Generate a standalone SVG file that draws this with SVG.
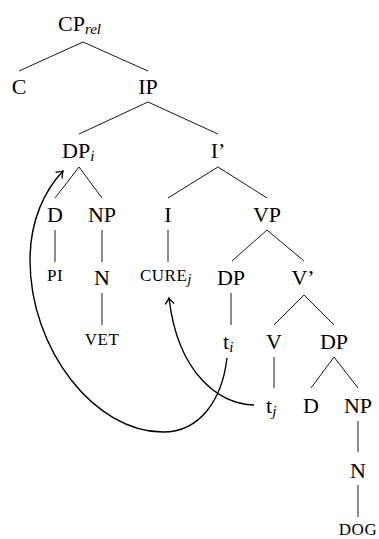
<svg xmlns="http://www.w3.org/2000/svg" width="379" height="539" viewBox="0 0 379 539" font-family="'Liberation Serif', 'DejaVu Serif', 'Times New Roman', serif">
<style>
text{font-family:'Liberation Serif','DejaVu Serif','Times New Roman',serif;fill:#000}
.n{font-size:22px;text-anchor:middle}
.s{font-size:17px;text-anchor:middle;letter-spacing:0.5px}
.sub{font-size:15px;font-style:italic}
.e line{stroke:#000;stroke-width:0.9}
.mv{fill:none;stroke:#000;stroke-width:1.4}
</style>
<defs>
<marker id="ah" markerUnits="userSpaceOnUse" markerWidth="14" markerHeight="14" viewBox="-8 -7 10 14" refX="0" refY="0" orient="auto">
<path d="M -6,-4.5 Q -2,-1 0,0 Q -2,1 -6,4.5" fill="none" stroke="#000" stroke-width="1.3"/>
</marker>
</defs>
<g id="connectors" class="e">
<line x1="83" y1="42" x2="19" y2="71"/>
<line x1="83" y1="42" x2="148" y2="71"/>
<line x1="148" y1="102" x2="79" y2="134"/>
<line x1="148" y1="102" x2="218" y2="134"/>
<line x1="79" y1="167" x2="55" y2="198"/>
<line x1="79" y1="167" x2="102" y2="198"/>
<line x1="218" y1="167" x2="168" y2="198"/>
<line x1="218" y1="167" x2="267" y2="198"/>
<line x1="55" y1="230" x2="55" y2="262"/>
<line x1="102" y1="230" x2="102" y2="262"/>
<line x1="102" y1="293" x2="102" y2="325"/>
<line x1="168" y1="230" x2="168" y2="262"/>
<line x1="267" y1="230" x2="232" y2="261"/>
<line x1="267" y1="230" x2="304" y2="261"/>
<line x1="231" y1="293" x2="231" y2="325"/>
<line x1="304" y1="295" x2="274" y2="325"/>
<line x1="304" y1="295" x2="334" y2="325"/>
<line x1="274" y1="357" x2="274" y2="388"/>
<line x1="334" y1="357" x2="311" y2="388"/>
<line x1="334" y1="357" x2="358" y2="388"/>
<line x1="358" y1="421" x2="358" y2="452"/>
<line x1="358" y1="485" x2="358" y2="517"/>
<path class="mv" d="M 227,358 C 222,400 200,432 163,432 C 95,432 30,350 30,260 C 30,220 45,190 63,171" marker-end="url(#ah)"/>
<path class="mv" d="M 254,405 C 220,404 178,375 169,298" marker-end="url(#ah)"/>
</g>
<g id="CPrel"><text x="58" y="31" font-size="22">CP<tspan class="sub" dy="3">rel</tspan></text></g>
<g id="C"><text class="n" x="19" y="94">C</text></g>
<g id="IP"><text class="n" x="148" y="94">IP</text></g>
<g id="DPi"><text x="62" y="158" font-size="22">DP<tspan class="sub" dy="3">i</tspan></text></g>
<g id="Ibar"><text class="n" x="218" y="158">I’</text></g>
<g id="D1"><text class="n" x="55" y="222">D</text></g>
<g id="NP1"><text class="n" x="102" y="222">NP</text></g>
<g id="I"><text class="n" x="168" y="222">I</text></g>
<g id="VP"><text class="n" x="267" y="222">VP</text></g>
<g id="PI"><text class="s" x="55" y="281">PI</text></g>
<g id="N1"><text class="n" x="102" y="285">N</text></g>
<g id="CURE"><text x="140" y="281" font-size="17" letter-spacing="0.5">CURE<tspan class="sub" dy="3" letter-spacing="0">j</tspan></text></g>
<g id="DP2"><text class="n" x="231" y="285">DP</text></g>
<g id="Vbar"><text class="n" x="303" y="285">V’</text></g>
<g id="VET"><text class="s" x="102" y="345">VET</text></g>
<g id="ti"><text x="223" y="349" font-size="22">t<tspan class="sub" dy="3">i</tspan></text></g>
<g id="V"><text class="n" x="274" y="349">V</text></g>
<g id="DP3"><text class="n" x="334" y="349">DP</text></g>
<g id="tj"><text x="266" y="413" font-size="22">t<tspan class="sub" dy="3">j</tspan></text></g>
<g id="D2"><text class="n" x="311" y="413">D</text></g>
<g id="NP2"><text class="n" x="358" y="413">NP</text></g>
<g id="N2"><text class="n" x="358" y="478">N</text></g>
<g id="DOG"><text class="s" x="358" y="535">DOG</text></g>
</svg>
